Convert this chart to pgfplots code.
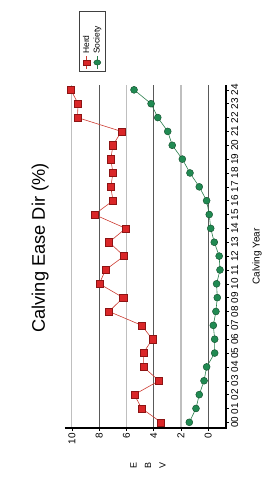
\documentclass[border=0pt]{standalone}
\usepackage{fontspec}
\setmainfont{Liberation Sans}
\usepackage{pgfplots}
\pgfplotsset{compat=1.18}
\definecolor{herdfill}{RGB}{218,38,40}
\definecolor{herdedge}{RGB}{140,20,20}
\definecolor{herdline}{RGB}{205,60,50}
\definecolor{socfill}{RGB}{32,138,82}
\definecolor{socedge}{RGB}{15,75,40}
\definecolor{socline}{RGB}{40,125,75}
\begin{document}
\begin{tikzpicture}
\useasboundingbox (0,0) rectangle (280bp,491bp);
\begin{axis}[
  at={(65bp,63bp)}, anchor=south west,
  scale only axis, width=161bp, height=343bp,
  x dir=reverse,
  xmin=-1.3, xmax=10.5, ymin=-0.41, ymax=24.35,
  axis line style={draw=none},
  clip=false,
  xtick={2,6,10},
  extra x ticks={0,4,8},
  extra x tick style={major grid style={black!65, line width=0.6pt}},
  xmajorgrids,
  major grid style={black!25, line width=1.3pt},
  ytick={0,...,24},
  yticklabels={00,01,02,03,04,05,06,07,08,09,10,11,12,13,14,15,16,17,18,19,20,21,22,23,24},
  tick align=outside,
  major tick length=3bp,
  tick style={black, line width=0.5pt},
  xtick pos=bottom,
  ytick pos=right,
  yticklabel pos=right,
  /pgf/number format/assume math mode=true,
  tick label style={font=\fontsize{10}{12}\selectfont},
  xticklabel style={rotate=90, anchor=east, inner sep=2bp},
  yticklabel style={rotate=90, anchor=north, inner sep=2bp},
  legend to name=cevlegend,
  legend style={draw=black!75, line width=0.7pt, font=\fontsize{8.5}{10}\selectfont,
    row sep=-1pt, inner sep=2pt, nodes={text width=38bp}},
  legend image post style={xscale=0.75},
  legend cell align=left,
]
\addplot[herdline, line width=0.6pt, mark=square*, mark size=3.6bp,
  mark options={fill=herdfill, draw=herdedge, line width=0.4pt}] coordinates {
(3.46,0) (4.88,1) (5.42,2) (3.61,3) (4.76,4) (4.76,5) (4.10,6) (4.88,7)
(7.27,8) (6.24,9) (7.98,10) (7.54,11) (6.17,12) (7.27,13) (6.05,14) (8.35,15)
(6.98,16) (7.15,17) (6.98,18) (7.15,19) (6.98,20) (6.37,21) (9.59,22) (9.54,23) (10.07,24)
};
\addlegendentry{Herd}
\addplot[socline, line width=0.6pt, mark=*, mark size=3.5bp,
  mark options={fill=socfill, draw=socedge, line width=0.4pt}] coordinates {
(1.39,0) (0.90,1) (0.66,2) (0.31,3) (0.12,4) (-0.47,5) (-0.47,6) (-0.37,7)
(-0.56,8) (-0.66,9) (-0.61,10) (-0.86,11) (-0.80,12) (-0.44,13) (-0.18,14) (-0.07,15)
(0.12,16) (0.66,17) (1.34,18) (1.90,19) (2.64,20) (2.97,21) (3.70,22) (4.19,23) (5.44,24)
};
\addlegendentry{Society}
\draw[black, line width=1.3pt] (axis description cs:0,0) -- (axis description cs:1,0) -- (axis description cs:1,1);
\node[rotate=90, font=\fontsize{18.3}{22}\selectfont] at (axis description cs:-0.155,0.525) {Calving Ease Dir (\%)};
\node[rotate=90, font=\fontsize{10}{12}\selectfont] at (axis description cs:1.193,0.5) {Calving Year};
\node[rotate=90, align=center, font=\fontsize{9}{14.5}\selectfont] at (axis description cs:0.516,-0.108) {E\\B\\V};
\end{axis}
\node[rotate=90, inner sep=0pt] at (92bp,449.5bp) {\pgfplotslegendfromname{cevlegend}};
\end{tikzpicture}
\end{document}
